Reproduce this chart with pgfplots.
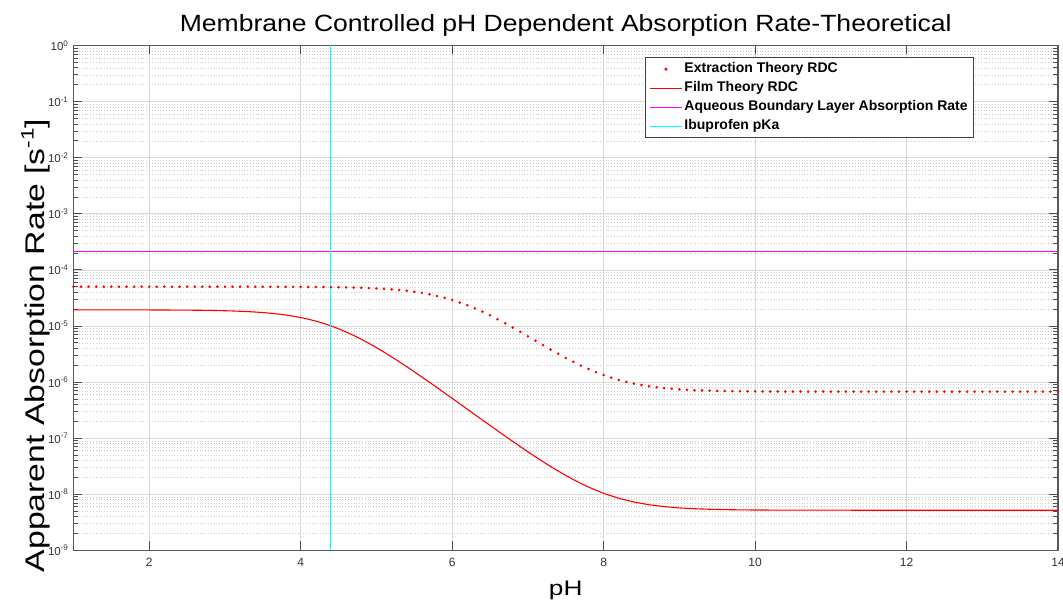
\documentclass[border=0pt]{standalone}
\usepackage{fontspec}
\setmainfont{Liberation Sans}
\newfontfamily\titlefont[FakeStretch=1.13]{Liberation Sans}
\newfontfamily\labelfont[FakeStretch=1.25]{Liberation Sans}
\usepackage{pgfplots}
\pgfplotsset{compat=1.18}
\definecolor{mymag}{RGB}{255,0,255}
\definecolor{mycyan}{HTML}{00FFFF}
\definecolor{myred}{RGB}{255,0,0}
\newcommand\tl[1]{10\textsuperscript{#1}}
\begin{document}
\begin{tikzpicture}[x=1pt,y=1pt]
\begin{axis}[
  at={(0,0)}, anchor=south west,
  scale only axis, width=984.5pt, height=504.9pt,
  xmin=1, xmax=14, ymin=1e-9, ymax=1, ymode=log,
  xtick={2,4,6,8,10,12,14}, xticklabels={2,4,6,8,10,12,14},
  ytick={1e-9,1e-8,1e-7,1e-6,1e-5,1e-4,1e-3,1e-2,1e-1,1},
  yticklabels={\tl{-9},\tl{-8},\tl{-7},\tl{-6},\tl{-5},\tl{-4},\tl{-3},\tl{-2},\tl{-1},\tl{0}},
  grid=both,
  major grid style={line width=0.7pt, black!15},
  minor grid style={line width=0.5pt, black!20, dash pattern=on 0.8pt off 2pt},
  axis line style={black!65, line width=1.2pt},
  tick style={black!70, line width=0.8pt},
  tick align=inside,
  major tick length=9pt, minor tick length=5pt,
  xticklabel style={font=\fontsize{12}{14}\selectfont, text=black!80, yshift=-4pt},
  yticklabel style={font=\fontsize{11.5}{13}\selectfont, text=black!80, xshift=-1.5pt},
  title={Membrane Controlled pH Dependent Absorption Rate-Theoretical},
  title style={font=\titlefont\fontsize{23.5}{28}\selectfont, at={(axis description cs:0.5,1)}, anchor=base, yshift=8pt},
  xlabel={pH},
  xlabel style={font=\labelfont\fontsize{21}{25}\selectfont, at={(axis description cs:0.5,0)}, anchor=base, yshift=-45.3pt},
  ylabel={Apparent Absorption Rate [s\raisebox{0.42em}{\fontsize{18}{20}\selectfont -1}]},
  ylabel style={font=\labelfont\fontsize{27}{32}\selectfont, at={(axis description cs:-0.0290,0.406)}, anchor=base},
  legend image code/.code={\draw[#1] (0pt,0pt) -- (32pt,0pt);},
  legend cell align=left,
  legend style={at={(axis description cs:0.9147,0.9766)}, anchor=north east,
    font=\bfseries\fontsize{14}{16}\selectfont, draw=black!75, line width=0.8pt, fill=white,
    inner xsep=4pt, inner ysep=2pt,
    nodes={inner xsep=2pt, inner ysep=3pt, text height=10pt, text depth=3pt}},
]
\addplot[only marks, mark=*, mark size=1.1pt, color=myred,
  legend image code/.code={\fill[myred] (16pt,0pt) circle (1.1pt);}] table {
x y
1.0 5.02e-5
1.1 5.02e-5
1.2 5.02e-5
1.3 5.02e-5
1.4 5.02e-5
1.5 5.02e-5
1.6 5.02e-5
1.7 5.02e-5
1.8 5.02e-5
1.9 5.02e-5
2.0 5.02e-5
2.1 5.02e-5
2.2 5.02e-5
2.3 5.02e-5
2.4 5.02e-5
2.5 5.02e-5
2.6 5.01e-5
2.7 5.01e-5
2.8 5.01e-5
2.9 5.01e-5
3.0 5.01e-5
3.1 5.01e-5
3.2 5.01e-5
3.3 5.01e-5
3.4 5.01e-5
3.5 5.01e-5
3.6 5.00e-5
3.7 5.00e-5
3.8 4.99e-5
3.9 4.99e-5
4.0 4.98e-5
4.1 4.97e-5
4.2 4.96e-5
4.3 4.95e-5
4.4 4.93e-5
4.5 4.90e-5
4.6 4.88e-5
4.7 4.84e-5
4.8 4.80e-5
4.9 4.74e-5
5.0 4.68e-5
5.1 4.59e-5
5.2 4.50e-5
5.3 4.38e-5
5.4 4.24e-5
5.5 4.08e-5
5.6 3.89e-5
5.7 3.68e-5
5.8 3.44e-5
5.9 3.18e-5
6.0 2.91e-5
6.1 2.63e-5
6.2 2.34e-5
6.3 2.06e-5
6.4 1.80e-5
6.5 1.55e-5
6.6 1.32e-5
6.7 1.12e-5
6.8 9.40e-6
6.9 7.86e-6
7.0 6.56e-6
7.1 5.47e-6
7.2 4.56e-6
7.3 3.81e-6
7.4 3.20e-6
7.5 2.70e-6
7.6 2.30e-6
7.7 1.973e-6
7.8 1.712e-6
7.9 1.503e-6
8.0 1.335e-6
8.1 1.201e-6
8.2 1.094e-6
8.3 1.008e-6
8.4 9.40e-7
8.5 8.86e-7
8.6 8.43e-7
8.7 8.09e-7
8.8 7.82e-7
8.9 7.60e-7
9.0 7.43e-7
9.1 7.29e-7
9.2 7.18e-7
9.3 7.10e-7
9.4 7.03e-7
9.5 6.97e-7
9.6 6.93e-7
9.7 6.89e-7
9.8 6.87e-7
9.9 6.84e-7
10.0 6.83e-7
10.1 6.81e-7
10.2 6.80e-7
10.3 6.79e-7
10.4 6.79e-7
10.5 6.78e-7
10.6 6.78e-7
10.7 6.77e-7
10.8 6.77e-7
10.9 6.77e-7
11.0 6.77e-7
11.1 6.77e-7
11.2 6.77e-7
11.3 6.77e-7
11.4 6.77e-7
11.5 6.77e-7
11.6 6.76e-7
11.7 6.76e-7
11.8 6.76e-7
11.9 6.76e-7
12.0 6.76e-7
12.1 6.76e-7
12.2 6.76e-7
12.3 6.76e-7
12.4 6.76e-7
12.5 6.76e-7
12.6 6.76e-7
12.7 6.76e-7
12.8 6.76e-7
12.9 6.76e-7
13.0 6.76e-7
13.1 6.76e-7
13.2 6.76e-7
13.3 6.76e-7
13.4 6.76e-7
13.5 6.76e-7
13.6 6.76e-7
13.7 6.76e-7
13.8 6.76e-7
13.9 6.76e-7
14.0 6.76e-7
};
\addlegendentry{Extraction Theory RDC}
\addplot[myred, line width=1.1pt] table {
x y
1.0 1.940e-5
1.5 1.939e-5
2.0 1.933e-5
2.5 1.918e-5
2.75 1.901e-5
3.0 1.871e-5
3.1 1.854e-5
3.2 1.832e-5
3.3 1.807e-5
3.4 1.775e-5
3.5 1.737e-5
3.6 1.690e-5
3.7 1.636e-5
3.8 1.572e-5
3.9 1.499e-5
4.0 1.415e-5
4.1 1.322e-5
4.2 1.222e-5
4.3 1.115e-5
4.4 1.004e-5
4.5 8.925e-6
4.6 7.83e-6
4.7 6.784e-6
4.8 5.81e-6
4.9 4.915e-6
5.0 4.12e-6
5.1 3.422e-6
5.2 2.82e-6
5.3 2.311e-6
5.4 1.883e-6
5.5 1.527e-6
5.6 1.234e-6
5.7 9.94e-7
5.8 7.99e-7
5.9 6.41e-7
6.0 5.14e-7
6.1 4.11e-7
6.2 3.29e-7
6.3 2.63e-7
6.4 2.11e-7
6.5 1.69e-7
6.6 1.355e-7
6.7 1.088e-7
6.8 8.76e-8
6.9 7.07e-8
7.0 5.73e-8
7.1 4.66e-8
7.2 3.81e-8
7.3 3.13e-8
7.4 2.60e-8
7.5 2.17e-8
7.6 1.83e-8
7.7 1.56e-8
7.8 1.35e-8
7.9 1.18e-8
8.0 1.04e-8
8.2 8.49e-9
8.4 7.28e-9
8.6 6.51e-9
8.8 6.03e-9
9.0 5.72e-9
9.2 5.53e-9
9.4 5.41e-9
9.6 5.33e-9
9.8 5.28e-9
10.0 5.25e-9
10.5 5.22e-9
11.0 5.21e-9
12.0 5.20e-9
13.0 5.20e-9
14.0 5.20e-9
};
\addlegendentry{Film Theory RDC}
\addplot[draw=mymag, line width=1pt] coordinates {(1,2.11e-4) (14,2.11e-4)};
\addlegendentry{Aqueous Boundary Layer Absorption Rate}
\addplot[draw=mycyan, line width=1pt] coordinates {(4.4,1e-9) (4.4,1)};
\addlegendentry{Ibuprofen pKa}
\end{axis}
\pgfresetboundingbox
\path[use as bounding box] (-73.5pt,-50.6pt) rectangle (989.5pt,550.4pt);
\end{tikzpicture}
\end{document}
